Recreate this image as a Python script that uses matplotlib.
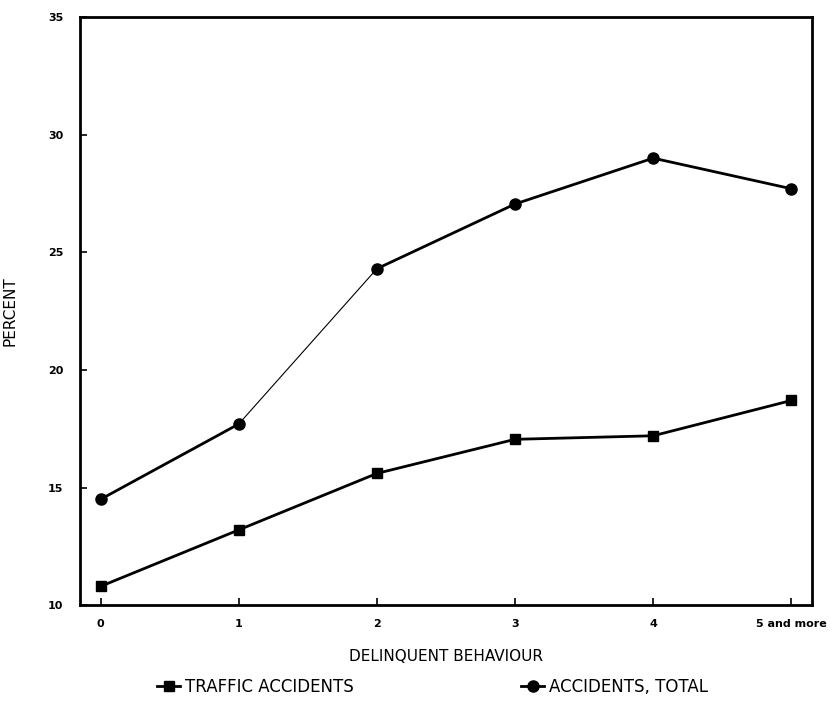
import numpy as np
import matplotlib
matplotlib.use("Agg")
import matplotlib.pyplot as plt
from matplotlib.lines import Line2D

# data
categories = ["0", "1", "2", "3", "4", "5 and more"]
traffic = [10.8, 13.2, 15.6, 17.05, 17.2, 18.7]
total = [14.5, 17.7, 24.3, 27.05, 29.0, 27.7]
# line width of each segment (segment 1->2 of total is drawn thin)
total_seg_lw = [2.0, 0.8, 2.0, 2.0, 2.0]
traffic_seg_lw = [2.0, 2.0, 2.0, 2.0, 2.0]
yticks = [10, 15, 20, 25, 30, 35]

plt.rcParams['font.family'] = ['DejaVu Sans']

fig = plt.figure(figsize=(8.32, 7.07), dpi=100)
ax = fig.add_axes([0.096, 0.144, 0.88, 0.832])

x = np.arange(len(categories))

for i in range(len(x) - 1):
    ax.plot(x[i:i + 2], total[i:i + 2], color='black', lw=total_seg_lw[i],
            solid_capstyle='butt')
    ax.plot(x[i:i + 2], traffic[i:i + 2], color='black', lw=traffic_seg_lw[i],
            solid_capstyle='butt')
ax.plot(x, total, linestyle='none', marker='o', ms=8, color='black')
ax.plot(x, traffic, linestyle='none', marker='s', ms=7, color='black')

ax.set_xlim(-0.15, 5.15)
ax.set_ylim(10, 35)
ax.set_xticks(x)
ax.set_xticklabels(categories, fontsize=8, fontweight='bold')
ax.set_yticks(yticks)
ax.set_yticklabels([str(v) for v in yticks], fontsize=8, fontweight='bold')
ax.tick_params(axis='both', direction='in', length=5, width=1.2, pad=10)
ax.tick_params(axis='y', pad=12)

for s in ax.spines.values():
    s.set_linewidth(2)
    s.set_color('black')

ax.set_xlabel("DELINQUENT BEHAVIOUR", fontsize=11, labelpad=14)
ax.set_ylabel("PERCENT", fontsize=11, labelpad=30)
ax.yaxis.set_label_coords(-0.085, 0.5)

handles = [
    Line2D([], [], color='black', lw=2.0, marker='s', ms=7),
    Line2D([], [], color='black', lw=2.0, marker='o', ms=8),
]
fig.legend(handles, ["TRAFFIC ACCIDENTS", "ACCIDENTS, TOTAL"],
           loc='lower center', bbox_to_anchor=(0.52, -0.005), ncol=2,
           frameon=False, fontsize=12, handlelength=1.4, handletextpad=0.3,
           columnspacing=10)

fig.savefig("out.png", dpi=100, facecolor='white')
